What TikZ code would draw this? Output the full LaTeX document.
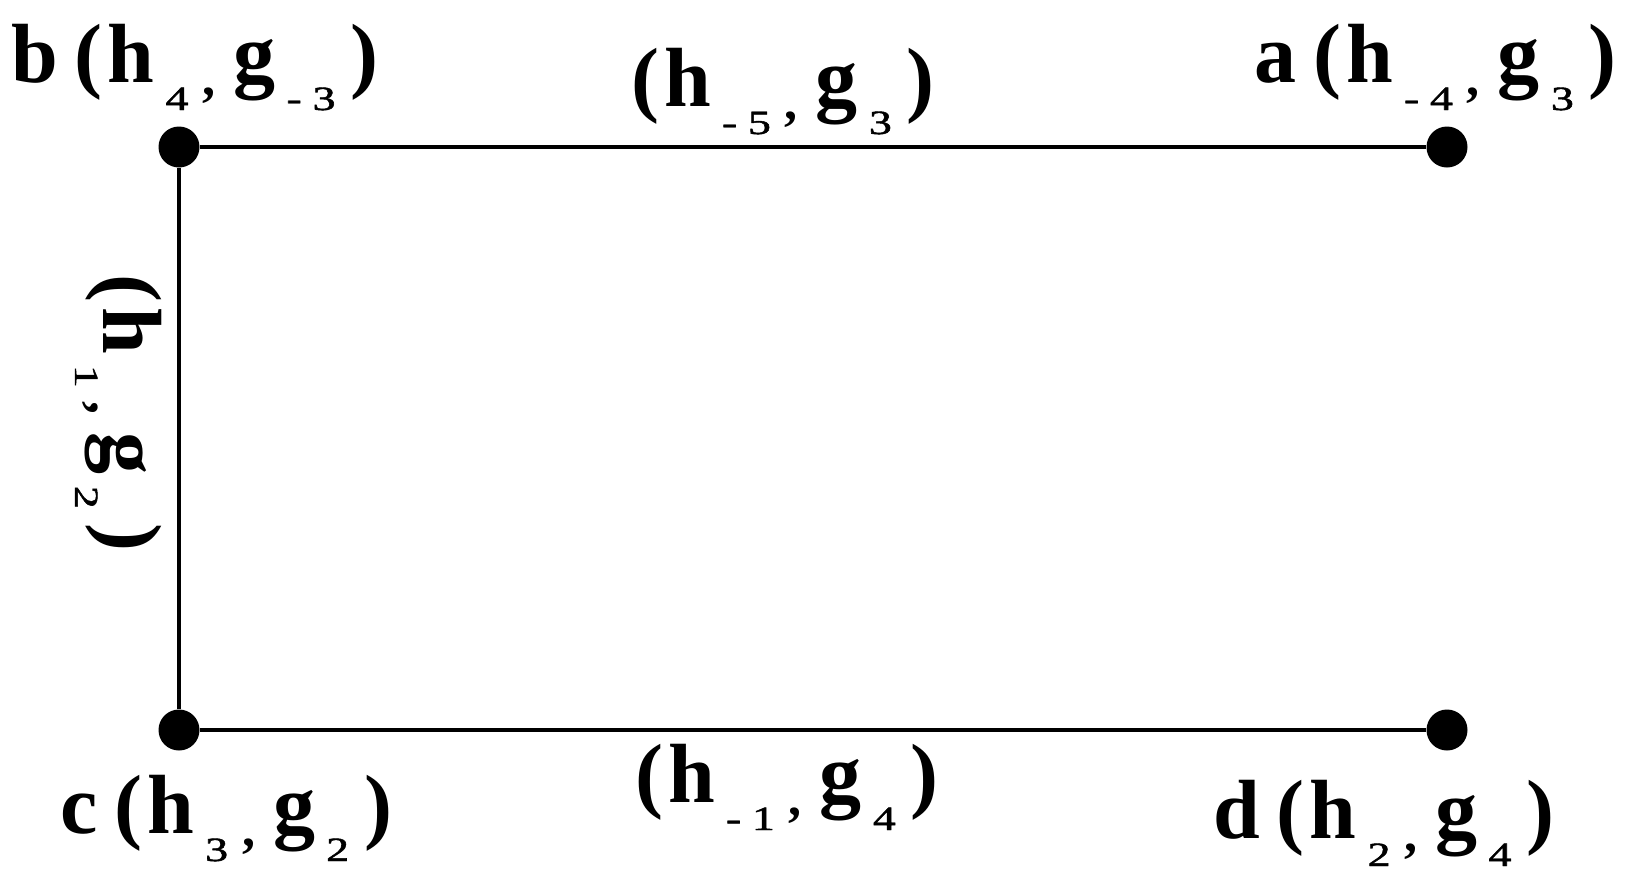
\documentclass[tikz,border=0pt]{standalone}
\usepackage{graphicx}
\usepackage{fontspec}
\setmainfont{Liberation Serif}
\newfontfamily\subfont[FakeBold=1.3]{Liberation Serif}
\newcommand\Mn[1]{\textbf{#1}}
\newcommand\Sb[1]{\raisebox{-28pt}{\subfont\fontsize{34}{34}\selectfont\mdseries\scalebox{1.35}[1]{#1}}}
\newcommand\Cm{\raisebox{-13pt}{\fontsize{52}{52}\selectfont\bfseries ,}}
\newcommand\HGpair[2]{\Mn{(}\kern5pt\Mn{h}\kern11pt\Sb{#1}\kern14pt\Cm\kern18pt\Mn{g}\kern11pt\Sb{#2}\kern15pt\Mn{)}}
\newcommand\Ng[1]{-\kern8pt #1}
\newcommand\Pt[1]{\Mn{#1}\kern17pt}
\tikzset{
  dot/.style={circle,fill=black,inner sep=0pt,minimum size=41pt},
  edge/.style={line width=3.5pt},
  lab/.style={inner sep=0pt,anchor=base west,font=\fontsize{84}{90}\selectfont}
}
\begin{document}
\begin{tikzpicture}[x=1pt,y=-1pt]
\useasboundingbox (0,0) rectangle (1625,887);
\node[dot] (b) at (179,147) {};
\node[dot] (a) at (1447,147) {};
\node[dot] (c) at (179,730) {};
\node[dot] (d) at (1447,730) {};
\draw[edge] (b) -- (a);
\draw[edge] (b) -- (c);
\draw[edge] (c) -- (d);
\node[lab] (lb) at (11,82) {\Pt{b}\HGpair{4}{\Ng{3}}};
\node[lab] (la) at (1254,82) {\Pt{a}\HGpair{\Ng{4}}{3}};
\node[lab] (lc) at (60,833) {\Pt{c}\HGpair{3}{2}};
\node[lab] (ld) at (1213,838) {\Pt{d}\HGpair{2}{4}};
\node[lab] (lba) at (631,106) {\HGpair{\Ng{5}}{3}};
\node[lab] (lcd) at (635,802) {\HGpair{\Ng{1}}{4}};
\node[lab,rotate=-90] (lbc) at (103,274) {\HGpair{1}{2}};
\end{tikzpicture}
\end{document}
